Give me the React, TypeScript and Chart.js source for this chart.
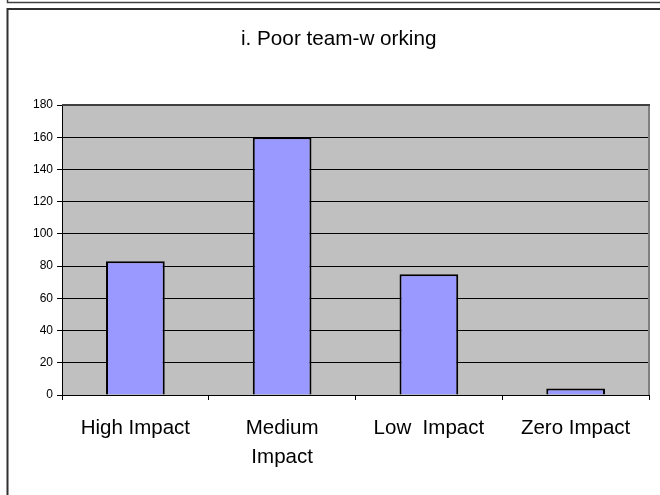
import React, { useEffect, useRef } from "react";
import { Chart, registerables } from "chart.js";

Chart.register(...registerables);

const titleText = "i. Poor team-w orking";
const categories: (string | string[])[] = ["High Impact", ["Medium", "Impact"], "Low  Impact", "Zero Impact"];
const values = [83, 160, 75, 4];
const yMin = 0;
const yMax = 180;
const yStep = 20;

const framePlugin = {
  id: "framePlugin",
  beforeDraw(chart: any) {
    const { ctx, chartArea } = chart;
    ctx.save();
    ctx.fillStyle = "#ffffff";
    ctx.fillRect(0, 0, chart.width, chart.height);
    ctx.fillStyle = "#C0C0C0";
    ctx.fillRect(chartArea.left, chartArea.top, chartArea.right - chartArea.left, chartArea.bottom - chartArea.top);
    ctx.strokeStyle = "#404040";
    ctx.lineWidth = 1.5;
    ctx.beginPath();
    ctx.moveTo(7.5, 0);
    ctx.lineTo(7.5, 2.5);
    ctx.lineTo(660, 2.5);
    ctx.stroke();
    ctx.lineWidth = 2;
    ctx.strokeStyle = "#303030";
    ctx.beginPath();
    ctx.moveTo(7.5, 495);
    ctx.lineTo(7.5, 9);
    ctx.lineTo(660, 9);
    ctx.stroke();
    ctx.restore();
  },
  afterDatasetsDraw(chart: any) {
    const { ctx, chartArea } = chart;
    ctx.save();
    ctx.strokeStyle = "#808080";
    ctx.lineWidth = 2;
    ctx.beginPath();
    ctx.moveTo(chartArea.right, chartArea.top);
    ctx.lineTo(chartArea.right, chartArea.bottom);
    ctx.stroke();
    ctx.strokeStyle = "#404040";
    ctx.lineWidth = 2;
    ctx.beginPath();
    ctx.moveTo(chartArea.left, chartArea.top);
    ctx.lineTo(chartArea.right + 1, chartArea.top);
    ctx.stroke();
    ctx.fillStyle = "#000000";
    ctx.font = "20.7px 'Liberation Sans', Arial, sans-serif";
    ctx.textAlign = "center";
    ctx.textBaseline = "middle";
    ctx.fillText(titleText, 338.7, 39);
    ctx.restore();
  },
};

export default function App() {
  const canvasRef = useRef<HTMLCanvasElement | null>(null);

  useEffect(() => {
    if (!canvasRef.current) return;
    const chart = new Chart(canvasRef.current, {
      type: "bar",
      data: {
        labels: categories,
        datasets: [
          {
            data: values,
            backgroundColor: "#9999FF",
            borderColor: "#000000",
            borderWidth: 2,
            barPercentage: 0.4,
            categoryPercentage: 1,
          },
        ],
      },
      options: {
        responsive: false,
        animation: false,
        layout: { padding: { top: 105, right: 11, bottom: 0, left: 0 } },
        plugins: {
          legend: { display: false },
          title: { display: false },
          tooltip: { enabled: false },
        },
        scales: {
          x: {
            afterFit(scale: any) {
              scale.height = 100;
            },
            grid: {
              display: true,
              drawOnChartArea: false,
              drawTicks: true,
              tickLength: 5,
              color: "#000000",
              tickColor: "#000000",
              offset: true,
            },
            border: { display: true, color: "#000000", width: 1 },
            ticks: {
              color: "#000000",
              padding: 14,
              maxRotation: 0,
              autoSkip: false,
              font: { family: "'Liberation Sans', Arial, sans-serif", size: 20.5, lineHeight: 1.42 },
            },
          },
          y: {
            min: yMin,
            max: yMax,
            afterFit(scale: any) {
              scale.width = 62;
            },
            grid: {
              color: "#000000",
              lineWidth: 1,
              drawTicks: true,
              tickLength: 5,
              tickColor: "#000000",
            },
            border: { display: true, color: "#000000", width: 1 },
            ticks: {
              stepSize: yStep,
              color: "#000000",
              padding: 4,
              font: { family: "'Liberation Sans', Arial, sans-serif", size: 12 },
            },
          },
        },
      },
      plugins: [framePlugin],
    });
    return () => chart.destroy();
  }, []);

  return (
    <div style={{ position: "absolute", left: 0, top: 0, width: 660, height: 495 }}>
      <canvas ref={canvasRef} width={660} height={495} />
    </div>
  );
}
